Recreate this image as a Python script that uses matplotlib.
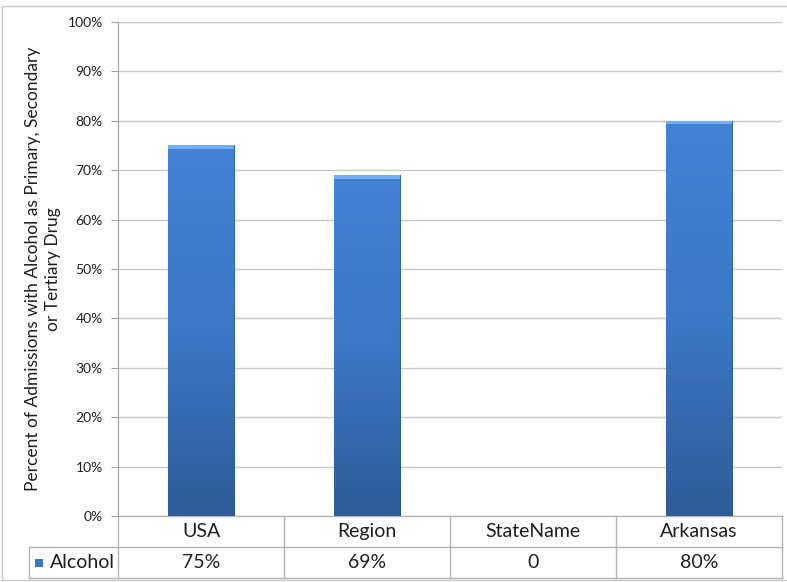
import numpy as np
import matplotlib.pyplot as plt
from matplotlib.colors import LinearSegmentedColormap
from matplotlib.patches import Rectangle

categories = ['USA', 'Region', 'StateName', 'Arkansas']
alcohol = [75, 69, 0, 80]
alcohol_labels = ['75%', '69%', '0', '80%']
series_name = 'Alcohol'
yticks = list(range(0, 101, 10))

plt.rcParams['font.family'] = ['Lato', 'DejaVu Sans']

fig = plt.figure(figsize=(7.87, 5.82), dpi=100)
ax = fig.add_axes([118 / 787, 1 - 516 / 582, 664 / 787, 494 / 582])

# outer chart frame
fig.patches.append(Rectangle((2 / 787, 2 / 582), 1.0, 574 / 582, transform=fig.transFigure,
                             fill=False, edgecolor='#c8c8c8', linewidth=1.0))

x = np.arange(len(categories))
bars = ax.bar(x, alcohol, width=0.4, color='#3a78c8', edgecolor='none', zorder=2)

# vertical gradient on each bar, lighter at the top
grad = LinearSegmentedColormap.from_list('bar', ['#2e5c98', '#3b78c6', '#4283d6'])
for b in bars:
    h = b.get_height()
    if h <= 0:
        continue
    x0 = b.get_x()
    w = b.get_width()
    img = ax.imshow(np.linspace(0, 1, 256).reshape(-1, 1), cmap=grad, origin='lower',
                    extent=(x0, x0 + w, 0, h), aspect='auto', zorder=3)
    img.set_clip_path(b)
    # thin highlight along the top edge
    ax.add_patch(Rectangle((x0, h - 0.7), w, 0.7, color='#73aef0', lw=0, zorder=4))
    ax.plot([x0 + w, x0 + w], [0, h], color='#27507f', lw=0.8, alpha=0.5, zorder=4)

ax.set_xlim(-0.5, len(categories) - 0.5)
ax.set_ylim(0, 100)
ax.set_yticks(yticks)
ax.set_yticklabels([f'{t}%' for t in yticks], fontsize=10, color='#1e1e1e')
ax.set_xticks([])
ax.yaxis.grid(True, color='#c8c8c8', linewidth=1.0, zorder=0)
ax.tick_params(axis='y', length=5, color='#a0a0a0', pad=6)
for side in ['top', 'right', 'bottom']:
    ax.spines[side].set_visible(False)
ax.spines['left'].set_color('#a0a0a0')

ax.set_ylabel('Percent of Admissions with Alcohol as Primary, Secondary\nor Tertiary Drug',
              fontsize=12.5, color='#1e1e1e', labelpad=5, linespacing=1.3)

# data table under the plot
row_h = 31 / 494
trans = ax.get_xaxis_transform()
line_kw = dict(color='#b4b4b4', lw=1.0, transform=trans, clip_on=False)
left_edge = -0.5 - 89 / 166
ax.plot([-0.5, len(categories) - 0.5], [0, 0], **line_kw)
ax.plot([left_edge, len(categories) - 0.5], [-row_h, -row_h], **line_kw)
ax.plot([left_edge, len(categories) - 0.5], [-2 * row_h, -2 * row_h], **line_kw)
ax.plot([left_edge, left_edge], [-row_h, -2 * row_h], **line_kw)
for b in np.arange(len(categories) + 1) - 0.5:
    ax.plot([b, b], [0, -2 * row_h], **line_kw)

for i, (cat, lab) in enumerate(zip(categories, alcohol_labels)):
    ax.text(i, -row_h / 2, cat, transform=trans, ha='center', va='center',
            fontsize=14, color='#1e1e1e')
    ax.text(i, -1.5 * row_h, lab, transform=trans, ha='center', va='center',
            fontsize=14, color='#1e1e1e')

ax.text(-0.5 - 3 / 166, -1.5 * row_h, series_name, transform=trans, ha='right', va='center',
        fontsize=14, color='#1e1e1e')
ax.add_patch(Rectangle((-0.5 - 83 / 166, -1.5 * row_h - 4 / 494), 8 / 166, 8 / 494,
                       transform=trans, clip_on=False, color='#3b78c6', lw=0))

fig.savefig('out.png', dpi=100)
